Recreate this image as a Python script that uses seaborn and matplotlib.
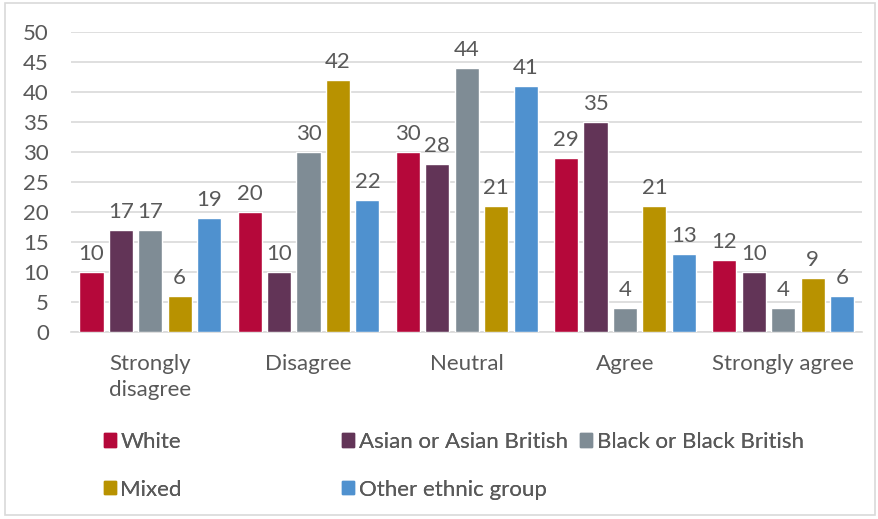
import matplotlib
matplotlib.use("Agg")
import matplotlib.pyplot as plt
import matplotlib.patches as mpatches
import seaborn as sns
import pandas as pd

categories = ["Strongly\ndisagree", "Disagree", "Neutral", "Agree", "Strongly agree"]
groups = ["White", "Asian or Asian British", "Black or Black British", "Mixed", "Other ethnic group"]
white = [10, 20, 30, 29, 12]
asian = [17, 10, 28, 35, 10]
black = [17, 30, 44, 4, 4]
mixed = [6, 42, 21, 21, 9]
other = [19, 22, 41, 13, 6]
colors = ["#B5083A", "#623457", "#7F8C95", "#B89200", "#4F91CF"]

series = [white, asian, black, mixed, other]
rows = []
for g, vals in zip(groups, series):
    for c, v in zip(categories, vals):
        rows.append({"cat": c, "group": g, "value": v})
df = pd.DataFrame(rows)

sns.set_theme(style="white")
plt.rcParams["font.family"] = ["Lato", "DejaVu Sans"]
txt = "#595959"
fs = 16

fig = plt.figure(figsize=(8.79, 5.19), dpi=100)
ax = fig.add_axes([0.081, 0.360, 0.900, 0.578])

sns.barplot(data=df, x="cat", y="value", hue="group", order=categories,
            hue_order=groups, palette=colors, width=0.93, gap=0.18,
            ax=ax, legend=False, saturation=1, errorbar=None, zorder=3)

for cont in ax.containers:
    ax.bar_label(cont, fmt="%d", padding=6, fontsize=fs, color=txt)

ax.set_ylim(0, 50)
ax.set_yticks(range(0, 51, 5))
ax.set_xlim(-0.5, 4.5)
ax.yaxis.grid(True, color="#D9D9D9", linewidth=1.2, zorder=0)
ax.set_axisbelow(True)
for s in ["top", "right", "left"]:
    ax.spines[s].set_visible(False)
ax.spines["bottom"].set_color("#D9D9D9")
ax.spines["bottom"].set_linewidth(1.2)
ax.tick_params(axis="both", length=0, labelsize=fs, colors=txt)
ax.tick_params(axis="x", pad=16)
ax.tick_params(axis="y", pad=16)
ax.set_xlabel("")
ax.set_ylabel("")
for lab in ax.get_xticklabels():
    lab.set_linespacing(1.35)

# legend in three columns placed like the reference
handles = [mpatches.Patch(color=c) for c in colors]
cols = [([0, 3], 0.118), ([1, 4], 0.389), ([2], 0.660)]
for idx, xpos in cols:
    leg = fig.legend([handles[i] for i in idx], [groups[i] for i in idx],
                     loc="upper left", bbox_to_anchor=(xpos, 0.168),
                     frameon=False, fontsize=fs, labelcolor=txt,
                     handlelength=0.55, handleheight=0.55, handletextpad=0.2,
                     labelspacing=1.25, borderpad=0, borderaxespad=0)
    fig.add_artist(leg)

# outer border
fig.add_artist(mpatches.Rectangle((0.006, 0.008), 0.990, 0.986, transform=fig.transFigure,
                                  fill=False, edgecolor="#D9D9D9", linewidth=1.2))

fig.savefig("out.png", dpi=100)
